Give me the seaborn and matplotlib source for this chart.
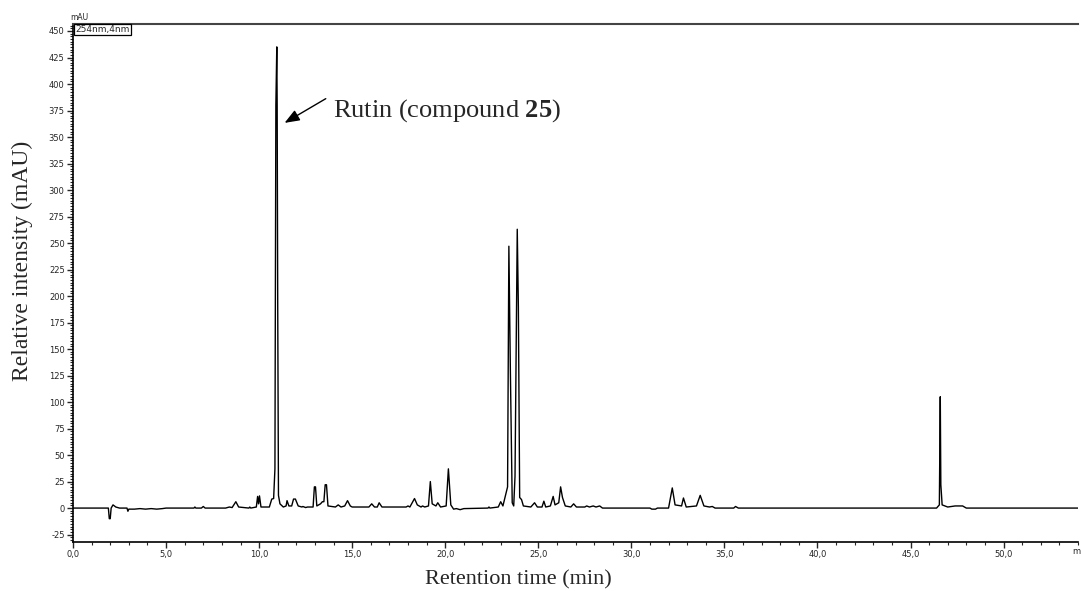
import numpy as np
import pandas as pd
import matplotlib.pyplot as plt
import seaborn as sns
from matplotlib.ticker import MultipleLocator, FuncFormatter

# chromatogram trace (retention time in min, signal in mAU)
rt_min = [0.0, 1.9, 1.95, 2.0, 2.05, 2.15, 2.3, 2.5, 2.9, 2.95, 3.0, 3.3, 3.6, 3.9, 4.2, 4.5, 4.8, 5.0,
          6.5, 6.55, 6.6, 6.9, 7.0, 7.1, 8.2, 8.4, 8.55, 8.75, 8.9, 9.45, 9.5, 9.55, 9.85, 9.92, 9.97,
          10.02, 10.1, 10.55, 10.68, 10.78, 10.85, 10.9, 10.95, 10.97, 11.0, 11.04, 11.12, 11.3, 11.45,
          11.5, 11.6, 11.75, 11.85, 11.95, 12.1, 12.3, 12.35, 12.5, 12.6, 12.9, 12.97, 13.03, 13.1,
          13.3, 13.4, 13.48, 13.55, 13.62, 13.7, 14.1, 14.25, 14.4, 14.6, 14.75, 14.9, 15.0, 15.9,
          16.05, 16.2, 16.35, 16.45, 16.6, 17.9, 18.0, 18.1, 18.35, 18.5, 18.7, 18.78, 18.9, 19.1,
          19.2, 19.3, 19.5, 19.6, 19.75, 20.05, 20.17, 20.3, 20.45, 20.6, 20.8, 21.0, 22.3, 22.35,
          22.4, 22.85, 22.98, 23.1, 23.35, 23.42, 23.5, 23.6, 23.68, 23.75, 23.87, 23.93, 24.0, 24.1,
          24.2, 24.6, 24.8, 24.95, 25.2, 25.3, 25.4, 25.65, 25.8, 25.9, 26.1, 26.2, 26.3, 26.45,
          26.75, 26.9, 27.05, 27.5, 27.6, 27.75, 27.95, 28.1, 28.3, 28.45, 31.0, 31.1, 31.3, 31.4,
          32.0, 32.2, 32.35, 32.7, 32.8, 32.95, 33.5, 33.7, 33.9, 34.2, 34.35, 34.5, 35.5, 35.6,
          35.75, 46.4, 46.55, 46.6, 46.63, 46.7, 47.0, 47.4, 47.8, 48.0, 54.0]
signal_mau = [0, 0, -10, -10, 0, 3, 1, 0, 0, -3, -1, -1, -0.5, -1, -0.5, -1, -0.5, 0,
              0, 1, 0, 0, 1.5, 0, 0, 1, 0.5, 6, 1, 0, 1, 0, 1, 11, 4,
              11.5, 1, 1, 8.5, 9, 37, 380, 435, 380, 190, 12, 4, 1, 2,
              7, 2, 2, 8.5, 8.5, 2, 1, 1.5, 0.5, 1, 1, 20, 20, 2,
              4, 6, 6, 22, 22, 2, 1, 3, 1, 2, 7, 2, 1, 1,
              4, 1, 1, 5, 1, 1, 2, 1, 9, 3, 1, 2, 1, 2,
              25, 4, 2, 5, 1, 2, 37, 3, -1, -0.5, -1.5, -0.5, 0, 1,
              0, 1, 6, 2, 20, 247, 130, 5, 2, 30, 263, 190, 10, 8,
              2, 1, 5, 1, 1, 6.5, 1, 2, 11, 3, 5, 20, 10, 2,
              1, 4, 1, 1, 2, 1, 2, 1, 2, 0, 0, -1, -1, 0,
              0, 19, 3, 2, 9.5, 1, 2, 12, 2, 1, 1.5, 0, 0, 1.5,
              0, 0, 3, 105, 22, 3, 1, 2, 2, 0, 0]

rutin_label = "Rutin (compound $\\mathbf{25}$)"
x_label = "Retention time (min)"
y_label = "Relative intensity (mAU)"
channel = "254nm,4nm"

df = pd.DataFrame({"rt": rt_min, "mau": signal_mau})

sns.set_style("ticks")
plt.rcParams["font.family"] = ["DejaVu Sans"]
plt.rcParams["mathtext.fontset"] = "custom"
plt.rcParams["mathtext.rm"] = "Liberation Serif"
plt.rcParams["mathtext.bf"] = "Liberation Serif:bold"

fig = plt.figure(figsize=(10.81, 5.91), dpi=100)
ax = fig.add_axes([73 / 1081, 1 - 542 / 591, 1005 / 1081, 518 / 591])

sns.lineplot(data=df, x="rt", y="mau", estimator=None, sort=False, color="black", lw=1.0, ax=ax)

ax.set_xlim(0, 54.0)
ax.set_ylim(-32, 456.6)
ax.xaxis.set_major_locator(MultipleLocator(5))
ax.xaxis.set_minor_locator(MultipleLocator(1))
ax.yaxis.set_major_locator(MultipleLocator(25))
ax.yaxis.set_minor_locator(MultipleLocator(2.5))
ax.xaxis.set_major_formatter(FuncFormatter(lambda v, p: f"{v:.1f}".replace(".", ",") if v <= 50 else ""))
ax.yaxis.set_major_formatter(FuncFormatter(lambda v, p: f"{v:.0f}" if v <= 450 else ""))
ax.tick_params(axis="both", which="major", labelsize=6, length=4, width=1, direction="out", pad=2)
ax.tick_params(axis="both", which="minor", length=2, width=0.8, direction="out")

for side in ["left", "bottom"]:
    ax.spines[side].set_linewidth(1.2)
    ax.spines[side].set_color("black")
ax.spines["top"].set_linewidth(1.5)
ax.spines["top"].set_color("#444444")
ax.spines["right"].set_visible(False)

ax.set_xlabel(x_label, family="Liberation Serif", fontsize=16)
ax.xaxis.set_label_coords((518 - 73) / 1005, (542 - 580) / 518)
ax.xaxis.label.set_va("center")
ax.set_ylabel(y_label, family="Liberation Serif", fontsize=17)
ax.yaxis.set_label_coords((22 - 73) / 1005, (542 - 261) / 518)
ax.yaxis.label.set_va("center")

# rutin annotation
ax.annotate("", xy=(11.24, 362), xytext=(13.71, 387.5),
            arrowprops=dict(arrowstyle="-|>,head_length=0.9,head_width=0.35", color="black", lw=1.0))
ax.text(13.98, 375, rutin_label, family="Liberation Serif", fontsize=19, ha="left", va="center")

# instrument-style labels
ax.text(0.002, 0.998, channel, transform=ax.transAxes, fontsize=6.5, ha="left", va="top",
        bbox=dict(boxstyle="square,pad=0.15", fc="white", ec="black", lw=0.9))
fig.text(70 / 1081, 1 - 17 / 591, "mAU", fontsize=5.5, ha="left", va="center")
fig.text(1072 / 1081, 1 - 551 / 591, "m", fontsize=6, ha="left", va="center")

fig.savefig("out.png", dpi=100)
